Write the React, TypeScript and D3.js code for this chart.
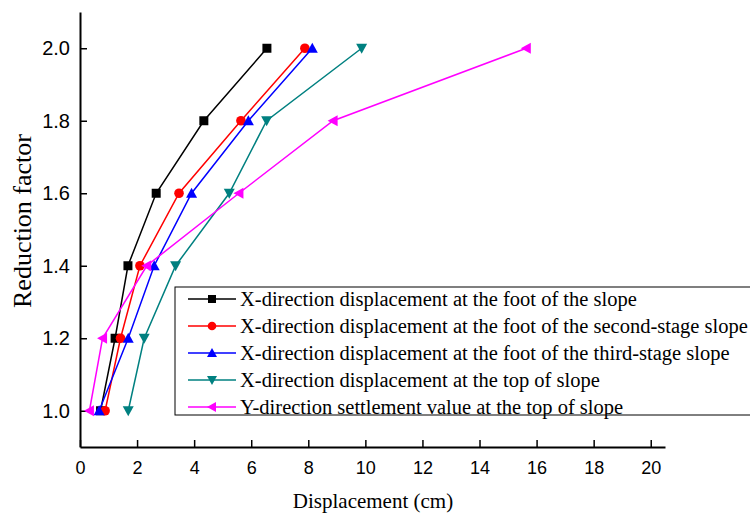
import React, { useEffect, useRef } from "react";
import * as d3 from "d3";

const factors = [1.0, 1.2, 1.4, 1.6, 1.8, 2.0];
const footSlope = [0.72, 1.23, 1.68, 2.67, 4.34, 6.55];
const footSecond = [0.88, 1.42, 2.1, 3.47, 5.64, 7.88];
const footThird = [0.67, 1.69, 2.6, 3.91, 5.9, 8.14];
const topSlopeX = [1.69, 2.25, 3.35, 5.23, 6.54, 9.87];
const topSlopeY = [0.33, 0.79, 2.34, 5.57, 8.87, 15.64];

const seriesNames = [
  "X-direction displacement at the foot of the slope",
  "X-direction displacement at the foot of the second-stage slope",
  "X-direction displacement at the foot of the third-stage slope",
  "X-direction displacement at the top of slope",
  "Y-direction settlement value at the top of slope",
];
const xTicks = [0, 2, 4, 6, 8, 10, 12, 14, 16, 18, 20];
const yTicks = [1.0, 1.2, 1.4, 1.6, 1.8, 2.0];

const colors = ["#000000", "#ff0000", "#0000ff", "#008080", "#ff00ff"];
const shapes = ["square", "circle", "up", "down", "left"];

const serif = "Liberation Serif, Times New Roman, serif";
const sans = "Liberation Sans, Arial, sans-serif";

function markerPath(shape: string, s: number) {
  const h = s / 2;
  switch (shape) {
    case "square":
      return `M${-h},${-h}h${s}v${s}h${-s}Z`;
    case "circle":
      return d3.symbol(d3.symbolCircle, Math.PI * (h + 0.3) * (h + 0.3))() as string;
    case "up":
      return `M0,${-h - 1}L${h + 1},${h}L${-h - 1},${h}Z`;
    case "down":
      return `M0,${h + 1}L${h + 1},${-h}L${-h - 1},${-h}Z`;
    default:
      return `M${-h - 1},0L${h},${-h - 1}L${h},${h + 1}Z`;
  }
}

export default function App() {
  const ref = useRef<SVGSVGElement>(null);

  useEffect(() => {
    const svg = d3.select(ref.current);
    svg.selectAll("*").remove();
    const margin = { left: 80, right: 85, top: 12, bottom: 66 };
    const width = 750;
    const height = 513;
    const x = d3.scaleLinear().domain([0, 20.5]).range([margin.left, width - margin.right]);
    const y = d3.scaleLinear().domain([0.9, 2.1]).range([height - margin.bottom, margin.top]);

    const data = [footSlope, footSecond, footThird, topSlopeX, topSlopeY];

    // axes, ticks point inward
    const xAxis = svg
      .append("g")
      .attr("transform", `translate(0,${y(0.9)})`)
      .call(d3.axisBottom(x).tickValues(xTicks).tickSizeInner(-7).tickSizeOuter(0).tickPadding(14).tickFormat(d3.format("d")));
    const yAxis = svg
      .append("g")
      .attr("transform", `translate(${x(0)},0)`)
      .call(d3.axisLeft(y).tickValues(yTicks).tickSizeInner(-7).tickSizeOuter(0).tickPadding(10).tickFormat(d3.format(".1f")));
    [xAxis, yAxis].forEach((a) => {
      a.select(".domain").attr("stroke-width", 2);
      a.selectAll(".tick line").attr("stroke-width", 1.5);
      a.selectAll("text").attr("font-family", sans).attr("fill", "#000");
    });
    xAxis.selectAll("text").attr("font-size", 18);
    yAxis.selectAll("text").attr("font-size", 20);

    svg
      .append("text")
      .attr("x", 373)
      .attr("y", 508)
      .attr("text-anchor", "middle")
      .attr("font-family", serif)
      .attr("font-size", 21)
      .text("Displacement (cm)");
    svg
      .append("text")
      .attr("transform", `translate(31,221) rotate(-90)`)
      .attr("text-anchor", "middle")
      .attr("font-family", serif)
      .attr("font-size", 26)
      .text("Reduction factor");

    const line = d3
      .line<number>()
      .x((d) => x(d))
      .y((d, i) => y(factors[i]));

    // legend box behind the series
    const lg = svg.append("g");
    lg.append("rect")
      .attr("x", 175)
      .attr("y", 287)
      .attr("width", 600)
      .attr("height", 128)
      .attr("fill", "white")
      .attr("stroke", "#000")
      .attr("stroke-width", 1);

    data.forEach((vals, k) => {
      svg
        .append("path")
        .datum(vals)
        .attr("d", line)
        .attr("fill", "none")
        .attr("stroke", colors[k])
        .attr("stroke-width", 1.5);
      svg
        .append("g")
        .selectAll("path")
        .data(vals)
        .join("path")
        .attr("transform", (d, i) => `translate(${x(d)},${y(factors[i])})`)
        .attr("d", markerPath(shapes[k], 9))
        .attr("fill", colors[k]);
    });

    seriesNames.forEach((name, k) => {
      const ly = 299 + k * 27;
      lg.append("line")
        .attr("x1", 188)
        .attr("x2", 236)
        .attr("y1", ly)
        .attr("y2", ly)
        .attr("stroke", colors[k])
        .attr("stroke-width", 1.5);
      lg.append("path")
        .attr("transform", `translate(212,${ly})`)
        .attr("d", markerPath(shapes[k], 8))
        .attr("fill", colors[k]);
      lg.append("text")
        .attr("x", 240)
        .attr("y", ly + 7)
        .attr("font-family", serif)
        .attr("font-size", 20.5)
        .text(name);
    });
  }, []);

  return (
    <svg
      ref={ref}
      width={750}
      height={513}
      style={{ position: "absolute", left: 0, top: 0, background: "#fff" }}
    />
  );
}
